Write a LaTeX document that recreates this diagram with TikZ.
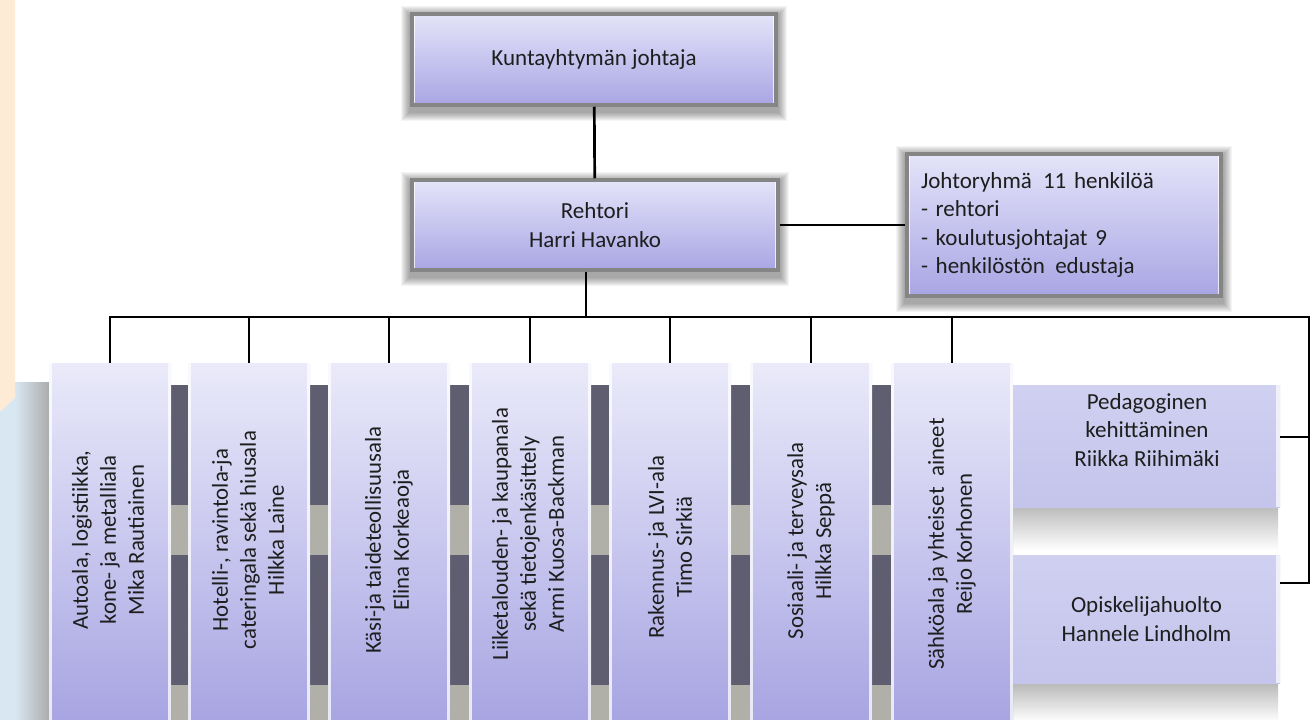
\documentclass[tikz,border=0pt]{standalone}
\usepackage{fontspec}
\setmainfont{Carlito}
\usetikzlibrary{calc}
\pgfdeclarelayer{back}
\pgfdeclarelayer{shade}
\pgfsetlayers{back,shade,main}
\definecolor{lavT}{HTML}{E4E4F9}
\definecolor{lavB}{HTML}{A9A5E4}
\definecolor{colT}{HTML}{EAEAFA}
\definecolor{colB}{HTML}{A7A4E2}
\definecolor{sideT}{HTML}{D0D0F1}
\definecolor{sideB}{HTML}{C4C4EC}
\definecolor{frameC}{HTML}{858585}
\definecolor{bandD}{HTML}{5E5E70}
\definecolor{bandL}{HTML}{B0B0A8}
\definecolor{orangeBG}{HTML}{FDEBD6}
\definecolor{blueBG}{HTML}{D9E7F3}
\definecolor{txt}{HTML}{1E1E1E}
\begin{document}
\begin{tikzpicture}[x=1pt,y=-1pt,
  font=\fontsize{23}{28.5}\selectfont, text=txt,
  hl/.style={path picture={
     \fill[white,opacity=.75] (path picture bounding box.north west) rectangle ([xshift=3pt]path picture bounding box.south west);
     \fill[white,opacity=.75] ([xshift=-3pt]path picture bounding box.north east) rectangle (path picture bounding box.south east);}},
  topbox/.style={rectangle, inner sep=0pt, top color=lavT, bottom color=lavB, draw=frameC, line width=3.5pt, hl, align=center},
  colbox/.style={rectangle, inner sep=0pt, minimum width=122pt, minimum height=360pt, top color=colT, bottom color=colB, hl},
  sidebox/.style={rectangle, inner sep=0pt, minimum width=267pt, top color=sideT, bottom color=sideB, align=center},
  coltext/.style={rotate=90, align=center, inner sep=0pt, font=\fontsize{22.8}{28}\selectfont},
  conn/.style={line width=2.7pt, draw=black}
]
\useasboundingbox (0,0) rectangle (1310,720);

% background decorations
\begin{pgfonlayer}{back}
  \fill[white] (0,0) rectangle (1310,720);
  \fill[orangeBG] (0,0) -- (15,0) -- (15,398) -- (0,412) -- cycle;
  \fill[blueBG] (0,412) -- (15,398) -- (24,395) -- (24,720) -- (0,720) -- cycle;
  \shade[left color=blueBG, right color=gray!65] (15,382) rectangle (49,722);
  \fill[bandD] (50,385) rectangle (1013,505);
  \fill[bandL] (50,505) rectangle (1013,555);
  \fill[bandD] (50,555) rectangle (1013,685);
  \fill[bandL] (50,685) rectangle (1013,722);
  \shade[top color=gray!55, bottom color=white] (1013,505) rectangle (1278,550);
  \shade[top color=gray!55, bottom color=white] (1013,683) rectangle (1278,722);
\end{pgfonlayer}

% upper boxes
\node[topbox, minimum width=364pt, minimum height=91pt] (k) at (594,59.5) {Kuntayhtymän johtaja};
\node[topbox, minimum width=366pt, minimum height=90pt] (r) at (595,225) {Rehtori\\Harri Havanko};
\node[topbox, minimum width=314pt, minimum height=142pt, text width=286pt, align=left] (j) at (1064,225)
  {Johtoryhmä\hspace{.15em} 11 henkilöä\\- rehtori\\- koulutusjohtajat 9\\- henkilöstön\hspace{.12em} edustaja};

\begin{pgfonlayer}{shade}
  \foreach \nn in {k,r,j}{
    \foreach \d in {1,...,9}{
      \fill[black,opacity=0.045] ($(\nn.north west)+(-\d,-\d+3)$) rectangle ($(\nn.south east)+(\d,\d+5)$);
    }
  }
\end{pgfonlayer}

% column boxes
\node[colbox] (c1) at (110,543) {};
\node[colbox] (c2) at (249,543) {};
\node[colbox] (c3) at (389,543) {};
\node[colbox] (c4) at (530,543) {};
\node[colbox] (c5) at (670,543) {};
\node[colbox] (c6) at (811,543) {};
\node[colbox] (c7) at (952,543) {};

\node[coltext] (t1) at (108,540) {Autoala, logistiikka,\\kone- ja metalliala\\Mika Rautiainen};
\node[coltext] (t2) at (248,540) {Hotelli-, ravintola-ja\\cateringala sekä hiusala\\Hilkka Laine};
\node[coltext] (t3) at (389,540) {Käsi-ja taideteollisuusala\\Elina Korkeaoja};
\node[coltext] (t4) at (528,534) {Liiketalouden- ja kaupanala\\sekä tietojenkäsittely\\Armi Kuosa-Backman};
\node[coltext] (t5) at (670,547) {Rakennus- ja LVI-ala\\Timo Sirkiä};
\node[coltext] (t6) at (811,541) {Sosiaali- ja terveysala\\Hilkka Seppä};
\node[coltext] (t7) at (952,544) {Sähköala ja yhteiset\hspace{.25em} aineet\\Reijo Korhonen};

% side boxes
\node[sidebox, minimum height=122pt] (ped) at (1146.5,446) {};
\node[align=center, inner sep=0pt] (pedt) at (1147,430) {Pedagoginen\\kehittäminen\\Riikka Riihimäki};
\node[sidebox, minimum height=128pt] (opis) at (1146.5,619) {Opiskelijahuolto\\Hannele Lindholm};
\fill[white,opacity=.7] ([xshift=-4pt]ped.north east) rectangle (ped.south east);
\fill[white,opacity=.7] ([xshift=-4pt]opis.north east) rectangle (opis.south east);

% connectors
\coordinate (busR) at (1309,317);
\coordinate (pedJ) at ($(ped.east)+(0,-9)$);
\coordinate (opisJ) at ($(opis.east)+(0,-36)$);
\draw[conn] (k) -- (r);
\draw[conn] (r) -- (j);
\draw[conn] ([xshift=-9pt]r.south) -- ([xshift=-9pt]r.south |- busR);
\draw[conn] (c1.north) |- (busR) -- (busR |- opisJ) -- (opisJ);
\draw[conn] (pedJ) -- (busR |- pedJ);
\foreach \c in {c2,c3,c4,c5,c6,c7}{
  \draw[conn] (\c.north) -- (\c.north |- busR);
}
\end{tikzpicture}
\end{document}
